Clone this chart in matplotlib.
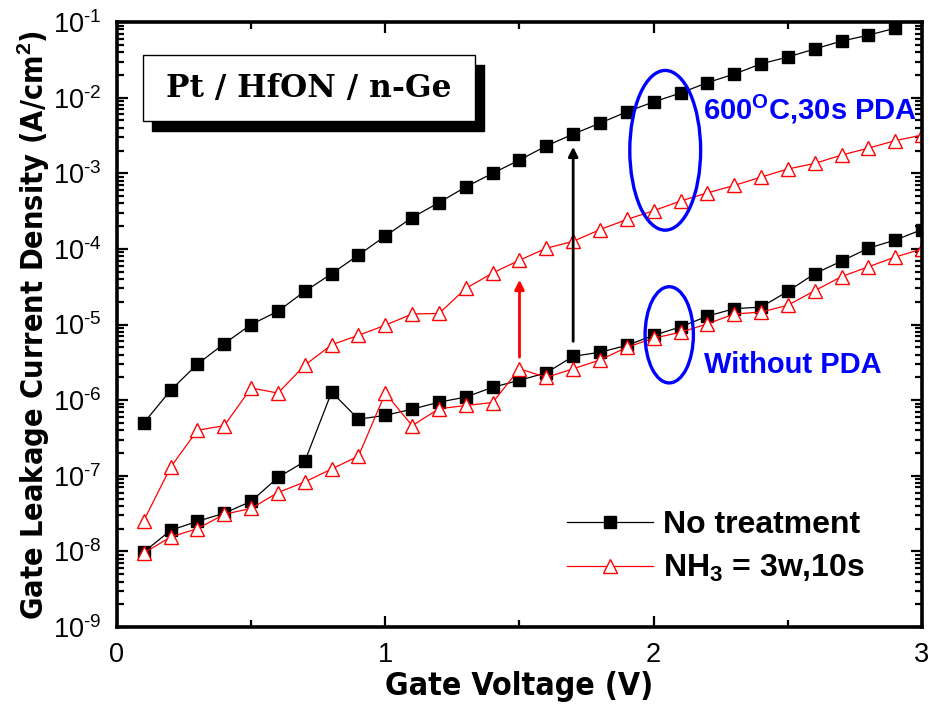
import matplotlib
matplotlib.use("Agg")
import matplotlib.pyplot as plt
from matplotlib import font_manager as fm
from matplotlib.patches import Rectangle, Ellipse
from matplotlib.ticker import FixedLocator, LogLocator, NullFormatter
import numpy as np

plt.rcParams['font.family'] = ['Liberation Sans', 'DejaVu Sans']
plt.rcParams['mathtext.fontset'] = 'custom'
plt.rcParams['mathtext.rm'] = 'Liberation Sans'
plt.rcParams['mathtext.bf'] = 'Liberation Sans:bold'
plt.rcParams['mathtext.it'] = 'Liberation Sans:italic'

# Gate voltage sweep (V)
voltage = [0.1, 0.2, 0.3, 0.4, 0.5, 0.6, 0.7, 0.8, 0.9, 1.0,
           1.1, 1.2, 1.3, 1.4, 1.5, 1.6, 1.7, 1.8, 1.9, 2.0,
           2.1, 2.2, 2.3, 2.4, 2.5, 2.6, 2.7, 2.8, 2.9, 3.0]

# Leakage current density (A/cm^2), 600C 30s PDA
no_treat_pda = [5.0e-7, 1.35e-6, 3.0e-6, 5.6e-6, 1.0e-5, 1.5e-5, 2.75e-5, 4.7e-5, 8.3e-5, 1.48e-4,
                2.6e-4, 4.1e-4, 6.6e-4, 1.0e-3, 1.5e-3, 2.3e-3, 3.3e-3, 4.6e-3, 6.5e-3, 8.8e-3,
                1.15e-2, 1.58e-2, 2.05e-2, 2.8e-2, 3.45e-2, 4.4e-2, 5.6e-2, 6.7e-2, 8.3e-2]
nh3_pda = [2.55e-8, 1.3e-7, 4.0e-7, 4.6e-7, 1.45e-6, 1.24e-6, 2.9e-6, 5.4e-6, 7.2e-6, 9.8e-6,
           1.38e-5, 1.4e-5, 3.0e-5, 4.8e-5, 7.1e-5, 1.02e-4, 1.26e-4, 1.8e-4, 2.45e-4, 3.2e-4,
           4.3e-4, 5.5e-4, 6.9e-4, 8.9e-4, 1.14e-3, 1.35e-3, 1.74e-3, 2.15e-3, 2.7e-3, 3.2e-3]

# Leakage current density (A/cm^2), without PDA
no_treat = [9.8e-9, 1.9e-8, 2.5e-8, 3.2e-8, 4.6e-8, 9.5e-8, 1.55e-7, 1.28e-6, 5.6e-7, 6.3e-7,
            7.6e-7, 9.4e-7, 1.1e-6, 1.48e-6, 1.83e-6, 2.3e-6, 3.8e-6, 4.3e-6, 5.3e-6, 7.2e-6,
            9.3e-6, 1.29e-5, 1.62e-5, 1.7e-5, 2.75e-5, 4.7e-5, 6.9e-5, 1.02e-4, 1.31e-4, 1.8e-4]
nh3 = [9.5e-9, 1.55e-8, 2.0e-8, 3.1e-8, 3.7e-8, 6.0e-8, 8.3e-8, 1.23e-7, 1.82e-7, 1.24e-6,
       4.6e-7, 7.7e-7, 8.5e-7, 9.3e-7, 2.6e-6, 2.0e-6, 2.6e-6, 3.4e-6, 5.0e-6, 6.6e-6,
       7.9e-6, 1.02e-5, 1.38e-5, 1.46e-5, 1.8e-5, 2.8e-5, 4.3e-5, 5.8e-5, 7.8e-5, 1.0e-4]

# Arrows marking the PDA-induced increase: (x, y_start, y_end)
red_arrow = (1.5, 3.7e-6, 3.9e-5)
black_arrow = (1.7, 6.0e-6, 2.24e-3)

x_ticks = [0, 1, 2, 3]
y_exponents = [-9, -8, -7, -6, -5, -4, -3, -2, -1]

# Narrow bold face for the axis titles, if one is installed
faces = fm.fontManager.ttflist
if any(f.name == 'Liberation Sans Narrow' for f in faces):
    lab_font = dict(family=['Liberation Sans Narrow'], weight='bold')
    x_lab_size, y_lab_size = 25, 24
elif any(f.name == 'DejaVu Sans' and str(f.stretch) in ('condensed', 'semi-condensed') for f in faces):
    lab_font = dict(family=['DejaVu Sans'], stretch='condensed', weight='bold')
    x_lab_size, y_lab_size = 23, 22
else:
    lab_font = dict(family=['Liberation Sans'], weight='bold')
    x_lab_size, y_lab_size = 23, 22

fig = plt.figure(figsize=(9.32, 7.11), dpi=100)
ax = fig.add_axes([0.1255, 0.1181, 0.8638, 0.8509])

sq = dict(color='black', marker='s', markersize=8.8, markerfacecolor='black',
          markeredgecolor='black', linewidth=0.9)
tri = dict(color='red', marker='^', markersize=10.5, markerfacecolor='white',
           markeredgecolor='red', markeredgewidth=1.0, linewidth=0.9)

ax.plot(voltage[:len(no_treat_pda)], no_treat_pda, **sq, label='No treatment')
ax.plot(voltage, nh3_pda, **tri, label='NH$_\\mathbf{3}$ = 3w,10s')
ax.plot(voltage, no_treat, **sq)
ax.plot(voltage, nh3, **tri)

ax.set_yscale('log')
ax.set_xlim(0, 3)
ax.set_ylim(1e-9, 1e-1)

ax.xaxis.set_major_locator(FixedLocator(x_ticks))
ax.xaxis.set_minor_locator(FixedLocator([0.5, 1.5, 2.5]))
ax.set_xticklabels([str(t) for t in x_ticks])
ax.yaxis.set_major_locator(FixedLocator([10.0 ** e for e in y_exponents]))
ax.set_yticklabels(['$\\mathregular{10^{\\text{-}%d}}$' % abs(e) for e in y_exponents])
ax.yaxis.set_minor_locator(LogLocator(base=10, subs=np.arange(2, 10), numticks=20))
ax.yaxis.set_minor_formatter(NullFormatter())

ax.tick_params(which='both', direction='in', top=True, right=True, width=1.6)
ax.tick_params(which='major', length=8, labelsize=19.5, pad=11)
ax.tick_params(which='minor', length=5)
for s in ax.spines.values():
    s.set_linewidth(2.6)

ax.set_xlabel('Gate Voltage (V)', labelpad=2, size=x_lab_size, **lab_font)
ax.set_ylabel('Gate Leakage Current Density (A/cm$^\\mathbf{2}$)', labelpad=1,
              size=y_lab_size, **lab_font)

# Arrows
for (xa, y0, y1), col in [(red_arrow, 'red'), (black_arrow, 'black')]:
    ax.annotate('', xy=(xa, y1), xytext=(xa, y0),
                arrowprops=dict(arrowstyle='-|>', color=col, lw=2.0,
                                mutation_scale=14, shrinkA=0, shrinkB=0))

# Ellipses around the two groups
ax.add_patch(Ellipse((0.681, 0.788), 0.088, 0.264, transform=ax.transAxes,
                     fill=False, edgecolor='#0000ff', lw=2.4, zorder=5))
ax.add_patch(Ellipse((0.686, 0.483), 0.060, 0.159, transform=ax.transAxes,
                     fill=False, edgecolor='#0000ff', lw=2.4, zorder=5))

ax.text(0.728, 0.855, '600$^\\mathbf{O}$C,30s PDA', transform=ax.transAxes,
        ha='left', va='center', color='#0000ff', fontsize=21, fontweight='bold')
ax.text(0.729, 0.433, 'Without PDA', transform=ax.transAxes,
        ha='left', va='center', color='#0000ff', fontsize=21, fontweight='bold')

# Title box with drop shadow
bx, by, bw, bh = 0.0323, 0.8364, 0.4124, 0.109
ax.add_patch(Rectangle((bx + 0.0112, by - 0.0165), bw, bh, transform=ax.transAxes,
                       facecolor='black', edgecolor='black', zorder=6))
ax.add_patch(Rectangle((bx, by), bw, bh, transform=ax.transAxes,
                       facecolor='white', edgecolor='black', lw=1.0, zorder=7))
ax.text(bx + bw / 2, by + bh / 2, 'Pt / HfON / n-Ge', transform=ax.transAxes,
        ha='center', va='center', fontsize=22.5, fontweight='bold',
        family=['DejaVu Serif'], zorder=8)

leg = ax.legend(loc='center left', bbox_to_anchor=(0.559, 0.132), frameon=False,
                prop=dict(weight='bold', size=23), handlelength=2.7,
                handletextpad=0.3, labelspacing=0.42, borderpad=0, borderaxespad=0)

fig.savefig('out.png', dpi=100)
